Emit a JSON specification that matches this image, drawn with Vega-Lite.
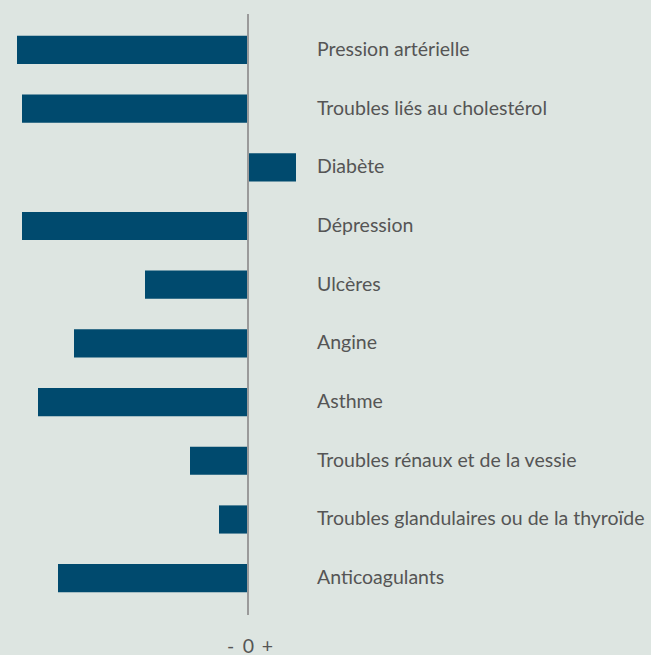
{
  "$schema": "https://vega.github.io/schema/vega-lite/v6.json",
  "width": 651,
  "height": 601,
  "autosize": "none",
  "padding": {"top": 14, "bottom": 40, "left": 0, "right": 0},
  "background": "#dde5e1",
  "config": {"view": {"stroke": null}, "font": "Lato"},
  "data": {"values": [
    {"cat": "Pression artérielle", "v": -231},
    {"cat": "Troubles liés au cholestérol", "v": -226},
    {"cat": "Diabète", "v": 48},
    {"cat": "Dépression", "v": -226},
    {"cat": "Ulcères", "v": -103},
    {"cat": "Angine", "v": -174},
    {"cat": "Asthme", "v": -210},
    {"cat": "Troubles rénaux et de la vessie", "v": -58},
    {"cat": "Troubles glandulaires ou de la thyroïde", "v": -29},
    {"cat": "Anticoagulants", "v": -190}
  ]},
  "encoding": {
    "y": {"field": "cat", "type": "nominal", "sort": null, "axis": null,
      "scale": {"paddingInner": 0.52, "paddingOuter": 0.38, "align": 0.49}}
  },
  "layer": [
    {
      "mark": {"type": "bar", "color": "#004a6e"},
      "encoding": {
        "x": {"field": "v", "type": "quantitative",
          "scale": {"domain": [-248, 403], "nice": false, "zero": false},
          "axis": {"values": [-18, 0, 19], "labelExpr": "datum.value < 0 ? '-' : (datum.value > 0 ? '+' : '0')",
            "domain": false, "ticks": false, "grid": false, "title": null,
            "labelFontSize": 19.5, "labelColor": "#555555", "labelPadding": 22, "labelFont": "Lato"}}
      }
    },
    {
      "mark": {"type": "rule", "color": "#9a9a9a", "strokeWidth": 2},
      "encoding": {"x": {"datum": 0, "type": "quantitative"}, "y": null}
    },
    {
      "mark": {"type": "text", "align": "left", "baseline": "middle", "fontSize": 19.5, "color": "#555555", "font": "Lato"},
      "encoding": {"x": {"datum": 69, "type": "quantitative"}, "text": {"field": "cat"}}
    }
  ]
}
